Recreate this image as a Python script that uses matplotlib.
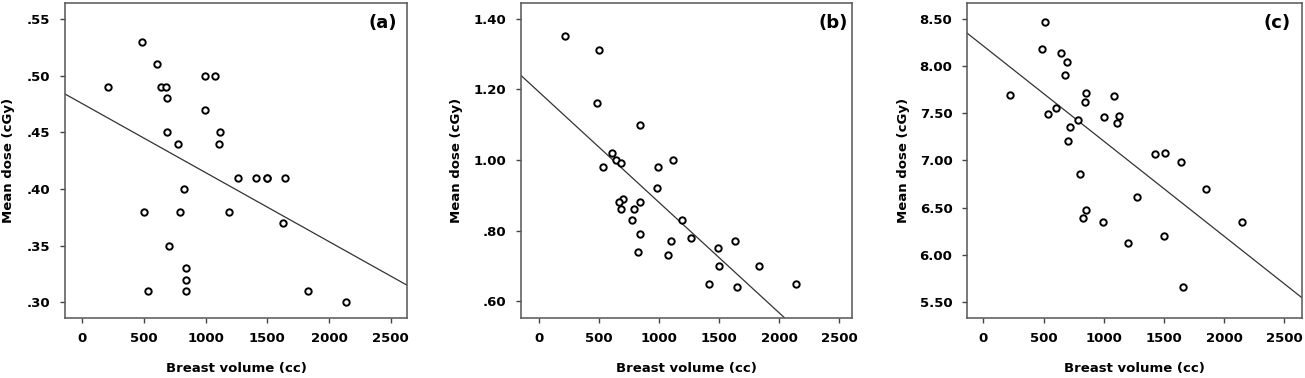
import numpy as np
import matplotlib
matplotlib.use("Agg")
import matplotlib.pyplot as plt
from matplotlib.ticker import FuncFormatter

plt.rcParams['font.family'] = ['DejaVu Sans']
plt.rcParams['font.weight'] = 'bold'

# panel (a)
vol_a = [213, 489, 607, 640, 678, 688, 688, 780, 994, 1075, 996, 1118, 1107, 1264, 1412,
         1496, 1500, 1647, 826, 505, 796, 1193, 1631, 705, 840, 840, 840, 535, 1833, 2138]
dose_a = [.49, .53, .51, .49, .49, .48, .45, .44, .50, .50, .47, .45, .44, .41, .41,
          .41, .41, .41, .40, .38, .38, .38, .37, .35, .33, .32, .31, .31, .31, .30]
# panel (b)
vol_b = [214, 503, 483, 839, 606, 642, 686, 531, 994, 1117, 983, 703, 664, 842, 686,
         794, 775, 1192, 842, 1103, 1267, 822, 1072, 1494, 1633, 1500, 1833, 1417, 1647, 2139]
dose_b = [1.35, 1.31, 1.16, 1.10, 1.02, 1.00, .99, .98, .98, 1.00, .92, .89, .88, .88, .86,
          .86, .83, .83, .79, .77, .78, .74, .73, .75, .77, .70, .70, .65, .64, .65]
# panel (c)
vol_c = [217, 509, 489, 648, 695, 681, 851, 843, 1082, 606, 537, 1004, 1126, 1112, 784,
         715, 701, 1424, 1510, 1643, 801, 1846, 1274, 851, 831, 990, 2147, 1502, 1201, 1657]
dose_c = [7.69, 8.46, 8.18, 8.14, 8.04, 7.90, 7.71, 7.62, 7.68, 7.55, 7.49, 7.46, 7.47, 7.40, 7.43,
          7.35, 7.21, 7.07, 7.08, 6.98, 6.86, 6.70, 6.61, 6.48, 6.39, 6.35, 6.35, 6.20, 6.13, 5.66]

# regression lines: (intercept, slope)
fit_a = (0.4753, -6.09e-5)
fit_b = (1.192, -3.125e-4)
fit_c = (8.210, -1.0065e-3)

labels = ["(a)", "(b)", "(c)"]
x_ticks = [0, 500, 1000, 1500, 2000, 2500]
y_ticks_a = [.30, .35, .40, .45, .50, .55]
y_ticks_b = [.60, .80, 1.00, 1.20, 1.40]
y_ticks_c = [5.50, 6.00, 6.50, 7.00, 7.50, 8.00, 8.50]


def fmt(v, pos):
    s = "%.2f" % v
    if s.startswith("0"):
        s = s[1:]
    return s


W, H = 1305, 378
fig = plt.figure(figsize=(W / 100, H / 100), dpi=100)

# pixel boxes: left, right, top, bottom
boxes = [(65, 407, 3, 317.5), (521, 852, 3, 317.5), (967, 1302, 3, 317.5)]
xlims = [(-138, 2632), (-150, 2606), (-137, 2647)]
ylims = [(0.2865, 0.564), (0.554, 1.444), (5.337, 8.666)]
ylab_x = [-0.146, -0.175, -0.170]
lab_off = [10, 4, 11]

data = [(vol_a, dose_a, fit_a, y_ticks_a),
        (vol_b, dose_b, fit_b, y_ticks_b),
        (vol_c, dose_c, fit_c, y_ticks_c)]

for i in range(3):
    l, r, t, b = boxes[i]
    ax = fig.add_axes([l / W, (H - b) / H, (r - l) / W, (b - t) / H])
    vol, dose, fit, yt = data[i]
    ax.axline((0, fit[0]), slope=fit[1], color="#333333", lw=0.9, zorder=2)
    ax.plot(vol, dose, 'o', ms=4.6, mfc='white', mec='black', mew=1.4, zorder=3)
    ax.set_xlim(xlims[i])
    ax.set_ylim(ylims[i])
    ax.set_xticks(x_ticks)
    ax.set_yticks(yt)
    ax.yaxis.set_major_formatter(FuncFormatter(fmt))
    for s in ax.spines.values():
        s.set_color("#555555")
        s.set_linewidth(1.1)
    ax.tick_params(direction='out', length=3.5, width=1.0, color="#444444",
                   labelsize=9.5, pad=7)
    ax.set_xlabel("Breast volume (cc)", fontsize=9.5, fontweight='bold')
    ax.set_ylabel("Mean dose (cGy)", fontsize=9.5, fontweight='bold')
    ax.xaxis.set_label_coords(0.5, -0.141)
    ax.yaxis.set_label_coords(ylab_x[i], 0.5)
    ax.text(1 - lab_off[i] / (r - l), 1 - 20 / (b - t), labels[i], transform=ax.transAxes,
            ha='right', va='center', fontsize=13, fontweight='bold')

plt.savefig("out.png", dpi=100)
